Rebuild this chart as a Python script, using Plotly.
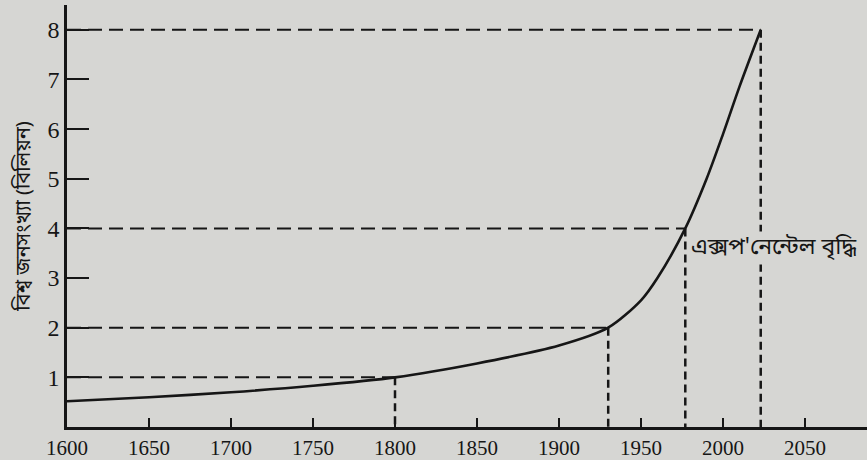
import plotly.graph_objects as go

years = [1600, 1650, 1700, 1750, 1800, 1850, 1900, 1930, 1950, 1960, 1977, 1990, 2000, 2010, 2023]
population = [0.52, 0.6, 0.7, 0.83, 1.0, 1.28, 1.64, 2.0, 2.55, 3.0, 4.0, 5.0, 5.9, 6.85, 8.0]

mark_years = [1800, 1930, 1977, 2023]
mark_pop = [1, 2, 4, 8]

x_ticks = [1600, 1650, 1700, 1750, 1800, 1850, 1900, 1950, 2000, 2050]
y_ticks = [1, 2, 3, 4, 5, 6, 7, 8]

y_title = "বিশ্ব জনসংখ্যা (বিলিয়ন)"
note = "এক্সপ'নেন্টেল বৃদ্ধি"

BG = "#d6d6d3"
INK = "#161616"
XMIN, XMAX = 1600, 2087.8
BENG = "Noto Sans Bengali, Noto Serif Bengali, FreeSerif, Noto Sans, sans-serif"

fig = go.Figure()

for yr, p in zip(mark_years, mark_pop):
    fig.add_trace(go.Scatter(x=[XMIN, yr], y=[p, p], mode="lines",
                             line=dict(color=INK, width=2, dash="14px,7px"),
                             showlegend=False, hoverinfo="skip"))
    fig.add_trace(go.Scatter(x=[yr, yr], y=[p, 0], mode="lines",
                             line=dict(color=INK, width=2.5, dash="8px,5px"),
                             showlegend=False, hoverinfo="skip"))

fig.add_trace(go.Scatter(x=years, y=population, mode="lines",
                         line=dict(color=INK, width=2.6, shape="spline", smoothing=0.8),
                         showlegend=False))

fig.add_annotation(x=1979, y=3.6, xref="x", yref="y", text=note, showarrow=False,
                   xanchor="left", yanchor="middle", bgcolor=BG,
                   font=dict(family=BENG, size=23, color=INK))

fig.update_layout(
    width=867, height=460,
    margin=dict(l=67, r=0, t=5, b=30),
    paper_bgcolor=BG, plot_bgcolor=BG,
    font=dict(family="Liberation Serif, serif", color=INK),
    xaxis=dict(range=[XMIN, XMAX], tickvals=x_ticks, ticks="inside", ticklen=9,
               tickwidth=2, tickcolor=INK, showgrid=False, zeroline=False,
               showline=True, linecolor=INK, linewidth=2.5,
               tickfont=dict(size=21, family="Liberation Serif, serif", color=INK)),
    yaxis=dict(range=[0, 8.5], tickvals=y_ticks, ticks="inside", ticklen=22,
               tickwidth=2, tickcolor=INK, showgrid=False, zeroline=False,
               showline=True, linecolor=INK, linewidth=2.5,
               tickfont=dict(size=24, family="Liberation Serif, serif", color=INK),
               title=dict(text=y_title, standoff=12,
                          font=dict(size=20, family=BENG, color=INK))),
)

fig.write_html("out.html", config={"displayModeBar": False},
               post_script="document.body.style.margin='0';document.body.style.padding='0';")
